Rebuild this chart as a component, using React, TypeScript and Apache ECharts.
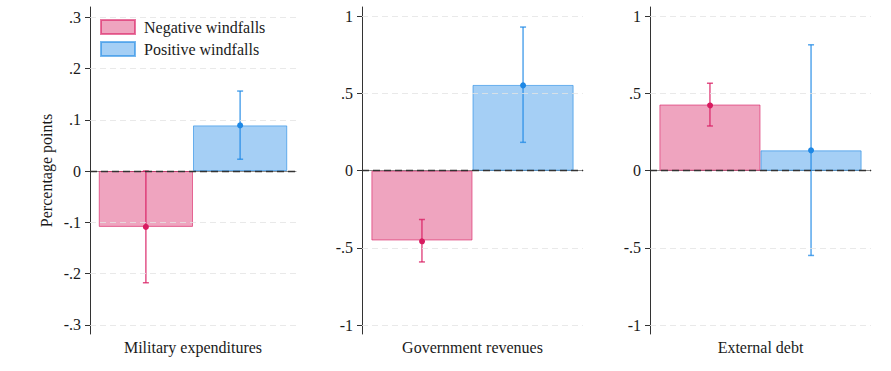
import React, { useEffect, useRef } from "react";
import * as echarts from "echarts";

const categories = ["Military expenditures", "Government revenues", "External debt"];
const seriesNames = ["Negative windfalls", "Positive windfalls"];
const negCoef = [-0.109, -0.452, 0.429];
const negLow = [-0.218, -0.591, 0.29];
const negHigh = [0.0, -0.316, 0.567];
const posCoef = [0.089, 0.556, 0.132];
const posLow = [0.023, 0.184, -0.549];
const posHigh = [0.156, 0.931, 0.816];
const yMin = [-0.318, -1.058, -1.058];
const yMax = [0.32, 1.061, 1.061];
const yTicks = [
  [-0.3, -0.2, -0.1, 0, 0.1, 0.2, 0.3],
  [-1, -0.5, 0, 0.5, 1],
  [-1, -0.5, 0, 0.5, 1],
];
const yTitle = "Percentage points";

const FONT = "Liberation Serif";
const FS = 16;
const GAP = 0.085;
const RED = "#d81b60";
const BLUE = "#1e88e5";
const RED_FILL = "rgba(216,27,96,0.4)";
const BLUE_FILL = "rgba(30,136,229,0.4)";
const RED_EDGE = "rgba(216,27,96,0.6)";
const BLUE_EDGE = "rgba(30,136,229,0.6)";

const fmt = (v: number) => {
  const r = Math.round(v * 10) / 10;
  if (r === 0) return "0";
  let s = String(r);
  s = s.replace("-0.", "-.").replace(/^0\./, ".");
  return s;
};

export default function App() {
  const ref = useRef<HTMLDivElement>(null);
  useEffect(() => {
    document.body.style.margin = "0";
    if (!ref.current) return;
    const chart = echarts.init(ref.current, undefined, { renderer: "svg" });
    const grids = [
      { left: 90, top: 7, width: 206, height: 327 },
      { left: 362, top: 7, width: 221, height: 327 },
      { left: 650, top: 7, width: 221, height: 327 },
    ];
    const txt = { fontFamily: FONT, fontSize: FS, color: "#1a1a1a" };
    const xAxis = categories.map((c, i) => ({
      type: "category",
      gridIndex: i,
      data: [c],
      axisLine: { lineStyle: { color: "#8a8a8a", width: 1 } },
      axisTick: { show: false },
      axisLabel: { margin: 5, ...txt },
      splitLine: { show: false },
    }));
    const yAxis = categories.map((c, i) => ({
      type: "value",
      gridIndex: i,
      min: yMin[i],
      max: yMax[i],
      name: i === 0 ? yTitle : "",
      nameLocation: "middle",
      nameGap: 36,
      nameTextStyle: { ...txt },
      axisLine: { show: true, lineStyle: { color: "#333", width: 1 } },
      axisTick: { show: true, length: 5, customValues: yTicks[i], lineStyle: { color: "#333" } },
      axisLabel: {
        margin: 9,
        customValues: yTicks[i],
        formatter: (v: number) => fmt(v),
        ...txt,
      },
      splitLine: { show: false },
    }));
    const series: any[] = [];
    categories.forEach((c, i) => {
      series.push({
        type: "bar",
        name: seriesNames[0],
        xAxisIndex: i,
        yAxisIndex: i,
        data: [negCoef[i]],
        barGap: "0%",
        barCategoryGap: GAP * 100 + "%",
        itemStyle: { color: RED_FILL, borderColor: RED_EDGE, borderWidth: 1 },
        z: 2,
      });
      series.push({
        type: "bar",
        name: seriesNames[1],
        xAxisIndex: i,
        yAxisIndex: i,
        data: [posCoef[i]],
        barGap: "0%",
        barCategoryGap: GAP * 100 + "%",
        itemStyle: { color: BLUE_FILL, borderColor: BLUE_EDGE, borderWidth: 1 },
        z: 2,
      });
      series.push({
        type: "line",
        xAxisIndex: i,
        yAxisIndex: i,
        data: [],
        z: 3,
        markLine: {
          silent: true,
          symbol: "none",
          label: { show: false },
          animation: false,
          data: yTicks[i].map((v) => ({
            yAxis: v,
            lineStyle:
              v === 0
                ? { color: "#333", width: 1.3, type: [7, 4], opacity: 1 }
                : { color: "#e4e4e4", width: 1, type: [6, 4], opacity: 0.8 },
          })),
        },
      });
      series.push({
        type: "custom",
        xAxisIndex: i,
        yAxisIndex: i,
        z: 4,
        data: [
          [0, negLow[i], negHigh[i], negCoef[i], -1],
          [0, posLow[i], posHigh[i], posCoef[i], 1],
        ],
        encode: { x: 0, y: [1, 2, 3] },
        renderItem: (params: any, api: any) => {
          const xv = api.value(0);
          const lo = api.value(1);
          const hi = api.value(2);
          const pt = api.value(3);
          const side = api.value(4);
          const band = api.size([1, 0])[0];
          const bw = (band * (1 - GAP)) / 2;
          const c = api.coord([xv, pt]);
          const cx = c[0] + (side * bw) / 2;
          const yLo = api.coord([xv, lo])[1];
          const yHi = api.coord([xv, hi])[1];
          const col = side < 0 ? RED : BLUE;
          const lineCol = side < 0 ? "rgba(216,27,96,0.75)" : "rgba(30,136,229,0.75)";
          const cap = 3;
          return {
            type: "group",
            children: [
              { type: "line", shape: { x1: cx, y1: yLo, x2: cx, y2: yHi }, style: { stroke: lineCol, lineWidth: 1.5 } },
              { type: "line", shape: { x1: cx - cap, y1: yLo, x2: cx + cap, y2: yLo }, style: { stroke: lineCol, lineWidth: 1.5 } },
              { type: "line", shape: { x1: cx - cap, y1: yHi, x2: cx + cap, y2: yHi }, style: { stroke: lineCol, lineWidth: 1.5 } },
              { type: "circle", shape: { cx: cx, cy: c[1], r: 3 }, style: { fill: col } },
            ],
          };
        },
      });
    });
    chart.setOption({
      animation: false,
      backgroundColor: "#fff",
      textStyle: { fontFamily: FONT, fontSize: FS },
      grid: grids,
      xAxis,
      yAxis,
      legend: {
        data: seriesNames,
        left: 100,
        top: 19,
        padding: 0,
        orient: "vertical",
        icon: "rect",
        itemWidth: 34,
        itemHeight: 14,
        itemGap: 6,
        textStyle: { ...txt, lineHeight: 14, padding: [0, 0, 0, 4] },
      },
      series,
    });
    return () => chart.dispose();
  }, []);
  return <div ref={ref} style={{ width: 891, height: 371 }} />;
}
